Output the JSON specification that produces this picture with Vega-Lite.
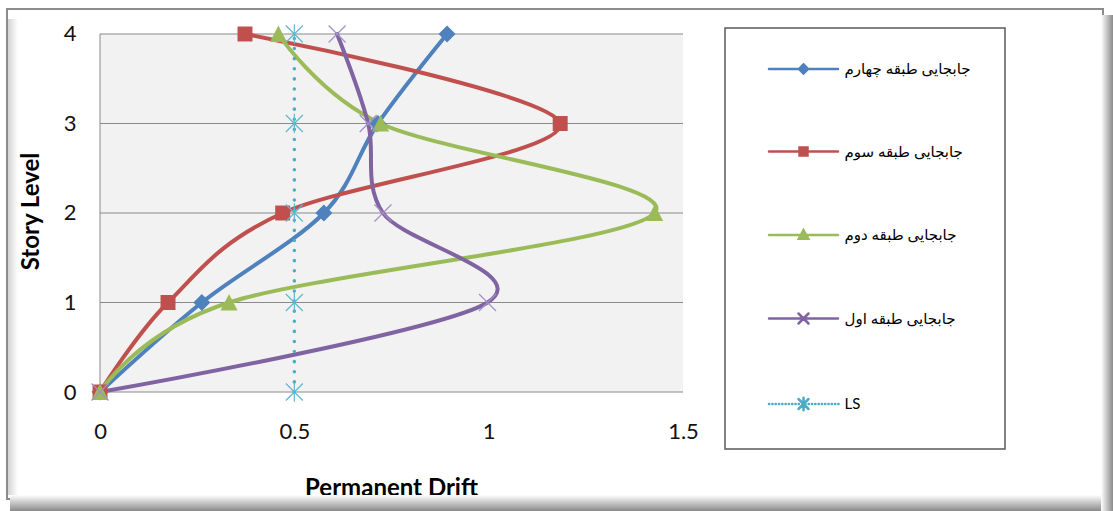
{
  "$schema": "https://vega.github.io/schema/vega-lite/v6.json",
  "width": 1096,
  "height": 490,
  "autosize": {"type": "none"},
  "padding": {"left": 7, "top": 9, "right": 10, "bottom": 12},
  "background": "white",
  "view": {"fill": "white", "stroke": "#8c8c8c", "strokeWidth": 2},
  "config": {"font": "Lato"},
  "data": {
    "values": [
      {"series": "جابجایی طبقه چهارم", "level": 0, "drift": 0},
      {"series": "جابجایی طبقه چهارم", "level": 1, "drift": 0.262},
      {"series": "جابجایی طبقه چهارم", "level": 2, "drift": 0.576},
      {"series": "جابجایی طبقه چهارم", "level": 3, "drift": 0.715},
      {"series": "جابجایی طبقه چهارم", "level": 4, "drift": 0.893},
      {"series": "جابجایی طبقه سوم", "level": 0, "drift": 0},
      {"series": "جابجایی طبقه سوم", "level": 1, "drift": 0.175},
      {"series": "جابجایی طبقه سوم", "level": 2, "drift": 0.47},
      {"series": "جابجایی طبقه سوم", "level": 3, "drift": 1.184},
      {"series": "جابجایی طبقه سوم", "level": 4, "drift": 0.373},
      {"series": "جابجایی طبقه دوم", "level": 0, "drift": 0},
      {"series": "جابجایی طبقه دوم", "level": 1, "drift": 0.332},
      {"series": "جابجایی طبقه دوم", "level": 2, "drift": 1.427},
      {"series": "جابجایی طبقه دوم", "level": 3, "drift": 0.722},
      {"series": "جابجایی طبقه دوم", "level": 4, "drift": 0.459},
      {"series": "جابجایی طبقه اول", "level": 0, "drift": 0},
      {"series": "جابجایی طبقه اول", "level": 1, "drift": 0.997},
      {"series": "جابجایی طبقه اول", "level": 2, "drift": 0.728},
      {"series": "جابجایی طبقه اول", "level": 3, "drift": 0.69},
      {"series": "جابجایی طبقه اول", "level": 4, "drift": 0.61},
      {"series": "LS", "level": 0, "drift": 0.5},
      {"series": "LS", "level": 1, "drift": 0.5},
      {"series": "LS", "level": 2, "drift": 0.5},
      {"series": "LS", "level": 3, "drift": 0.5},
      {"series": "LS", "level": 4, "drift": 0.5}
    ]
  },
  "layer": [
    {
      "data": {"values": [{}]},
      "mark": {"type": "rect", "fill": "#F2F2F2"},
      "encoding": {
        "x": {
          "datum": 0, "type": "quantitative",
          "scale": {"domain": [-0.2393, 2.5806], "nice": false, "zero": false},
          "axis": {
            "title": "Permanent Drift", "values": [0, 0.5, 1, 1.5], "format": "~g",
            "offset": -80, "domain": false, "ticks": false, "grid": false,
            "labelPadding": 2, "labelFontSize": 22, "labelFont": "Lato", "labelColor": "#111",
            "titleFont": "Lato", "titleFontSize": 24, "titleFontWeight": "bold", "titleColor": "#000",
            "titleX": 384, "titleY": 76, "titleAlign": "center", "titleBaseline": "alphabetic"
          }
        },
        "x2": {"datum": 1.5},
        "y": {
          "datum": 0, "type": "quantitative",
          "scale": {"domain": [-1.1955, 4.2793], "nice": false, "zero": false},
          "axis": {
            "title": "Story Level", "values": [0, 1, 2, 3, 4], "format": "d",
            "offset": -72, "domain": false, "ticks": false, "grid": false,
            "labelPadding": 3, "labelFontSize": 22, "labelFont": "Lato", "labelColor": "#111",
            "titleFont": "Lato", "titleFontSize": 24, "titleFontWeight": "bold", "titleColor": "#000",
            "titleX": -41, "titleY": 202, "titleAngle": -90, "titleAlign": "center", "titleBaseline": "alphabetic"
          }
        },
        "y2": {"datum": 4}
      }
    },
    {
      "data": {"values": [{}]},
      "mark": {"type": "rect", "fill": {"gradient": "linear", "x1": 0, "x2": 1, "y1": 0, "y2": 0, "stops": [{"offset": 0, "color": "#ffffff"}, {"offset": 1, "color": "#8a8a8a"}]}},
      "encoding": {
        "x": {"datum": 2.5755, "type": "quantitative"},
        "x2": {"datum": 2.6063},
        "y": {"datum": 4.2123, "type": "quantitative"},
        "y2": {"datum": -1.3296}
      }
    },
    {
      "data": {"values": [{}]},
      "mark": {"type": "rect", "fill": {"gradient": "linear", "x1": 0, "x2": 0, "y1": 0, "y2": 1, "stops": [{"offset": 0, "color": "#ffffff"}, {"offset": 1, "color": "#8a8a8a"}]}},
      "encoding": {
        "x": {"datum": -0.2316, "type": "quantitative"},
        "x2": {"datum": 2.5755},
        "y": {"datum": -1.1508, "type": "quantitative"},
        "y2": {"datum": -1.3296}
      }
    },
    {
      "data": {"values": [{}]},
      "mark": {"type": "rect", "fill": {"gradient": "linear", "x1": 0, "x2": 1, "y1": 0, "y2": 0, "stops": [{"offset": 0, "color": "#d4d4d4"}, {"offset": 1, "color": "#ffffff"}]}},
      "encoding": {
        "x": {"datum": -0.2367, "type": "quantitative"},
        "x2": {"datum": -0.2110},
        "y": {"datum": 4.1676, "type": "quantitative"},
        "y2": {"datum": -1.1508}
      }
    },
    {
      "transform": [{"filter": "datum.series === 'LS'"}],
      "mark": {"type": "rule", "color": "#8a8a8a", "strokeWidth": 1},
      "encoding": {
        "y": {"field": "level", "type": "quantitative"},
        "x": {"datum": 0, "type": "quantitative"},
        "x2": {"datum": 1.5}
      }
    },
    {
      "data": {"values": [{}]},
      "mark": {"type": "rule", "color": "#8a8a8a", "strokeWidth": 1},
      "encoding": {
        "x": {"datum": 0, "type": "quantitative"},
        "y": {"datum": 0, "type": "quantitative"},
        "y2": {"datum": 4}
      }
    },
    {
      "transform": [{"filter": "datum.series !== 'LS'"}],
      "mark": {"type": "line", "interpolate": "cardinal", "tension": 0, "strokeWidth": 4, "strokeCap": "round"},
      "encoding": {
        "x": {"field": "drift", "type": "quantitative"},
        "y": {"field": "level", "type": "quantitative"},
        "order": {"field": "level"},
        "color": {
          "field": "series", "type": "nominal",
          "scale": {
            "domain": ["جابجایی طبقه چهارم", "جابجایی طبقه سوم", "جابجایی طبقه دوم", "جابجایی طبقه اول", "LS"],
            "range": ["#4F81BD", "#C0504D", "#9BBB59", "#8064A2", "#4BACC6"]
          },
          "legend": {
            "orient": "none", "legendX": 718, "legendY": 19, "title": null,
            "padding": 33.5, "strokeColor": "#595959", "fillColor": "white",
            "rowPadding": 63.5, "symbolOffset": 37.5, "labelOffset": 33.5, "symbolSize": 100,
            "labelFont": "Lato, DejaVu Sans", "labelFontSize": 15, "labelColor": "#000", "labelLimit": 300,
            "encode": {
              "legend": {"update": {"strokeWidth": {"value": 1.5}}},
              "symbols": {
                "update": {
                  "shape": {"signal": "['M-6.9,0H6.9M0,-0.9L0.9,0L0,0.9L-0.9,0Z', 'M-6.9,0H6.9M-0.8,-0.8H0.8V0.8H-0.8Z', 'M-6.9,0H6.9M0,-1L0.95,0.75H-0.95Z', 'M-6.9,0H6.9M-1,-1L1,1M-1,1L1,-1', 'M-6.9,0h0.05m0.61,0h0.05m0.61,0h0.05m0.61,0h0.05m0.61,0h0.05m0.61,0h0.05m0.61,0h0.05m0.61,0h0.05m0.61,0h0.05m0.61,0h0.05m0.61,0h0.05m0.61,0h0.05m0.61,0h0.05m0.61,0h0.05m0.61,0h0.05m0.61,0h0.05m0.61,0h0.05m0.61,0h0.05m0.61,0h0.05m0.61,0h0.05m0.61,0h0.05m0.61,0h0.05M-1,-1L1,1M-1,1L1,-1M0,-1.25V1.25'][indexof(domain('color'), datum.value)]"},
                  "fill": {"scale": "color", "field": "value"},
                  "stroke": {"scale": "color", "field": "value"},
                  "strokeWidth": {"value": 2.5},
                  "strokeCap": {"value": "round"},
                  "strokeDash": {"value": []},
                  "opacity": {"value": 1}
                }
              }
            }
          }
        }
      }
    },
    {
      "transform": [{"filter": "datum.series === 'LS'"}],
      "mark": {"type": "line", "strokeWidth": 3.5, "strokeCap": "round", "strokeDash": [0.1, 10], "color": "#4BACC6"},
      "encoding": {
        "x": {"field": "drift", "type": "quantitative"},
        "y": {"field": "level", "type": "quantitative"},
        "order": {"field": "level"}
      }
    },
    {
      "transform": [{"filter": "datum.series === 'جابجایی طبقه چهارم'"}],
      "mark": {"type": "point", "shape": "M0,-1L1,0L0,1L-1,0Z", "filled": true, "size": 289, "strokeWidth": 1, "color": "#4F81BD", "opacity": 1},
      "encoding": {
        "x": {"field": "drift", "type": "quantitative"},
        "y": {"field": "level", "type": "quantitative"}
      }
    },
    {
      "transform": [{"filter": "datum.series === 'جابجایی طبقه سوم'"}],
      "mark": {"type": "point", "shape": "M-0.88,-0.88H0.88V0.88H-0.88Z", "filled": true, "size": 289, "strokeWidth": 1, "color": "#C0504D", "opacity": 1},
      "encoding": {
        "x": {"field": "drift", "type": "quantitative"},
        "y": {"field": "level", "type": "quantitative"}
      }
    },
    {
      "transform": [{"filter": "datum.series === 'جابجایی طبقه دوم'"}],
      "mark": {"type": "point", "shape": "M0,-1L1,0.95H-1Z", "filled": true, "size": 289, "strokeWidth": 1, "color": "#9BBB59", "opacity": 1},
      "encoding": {
        "x": {"field": "drift", "type": "quantitative"},
        "y": {"field": "level", "type": "quantitative"}
      }
    },
    {
      "transform": [{"filter": "datum.series === 'جابجایی طبقه اول'"}],
      "mark": {"type": "point", "shape": "M-1,-1L1,1M-1,1L1,-1", "filled": false, "size": 289, "strokeWidth": 1.2, "color": "#A190C6", "opacity": 1},
      "encoding": {
        "x": {"field": "drift", "type": "quantitative"},
        "y": {"field": "level", "type": "quantitative"}
      }
    },
    {
      "transform": [{"filter": "datum.series === 'LS'"}],
      "mark": {"type": "point", "shape": "M-1,-1L1,1M-1,1L1,-1M0,-1.15V1.15", "filled": false, "size": 289, "strokeWidth": 1.2, "color": "#5DB8D2", "opacity": 1},
      "encoding": {
        "x": {"field": "drift", "type": "quantitative"},
        "y": {"field": "level", "type": "quantitative"}
      }
    }
  ]
}
